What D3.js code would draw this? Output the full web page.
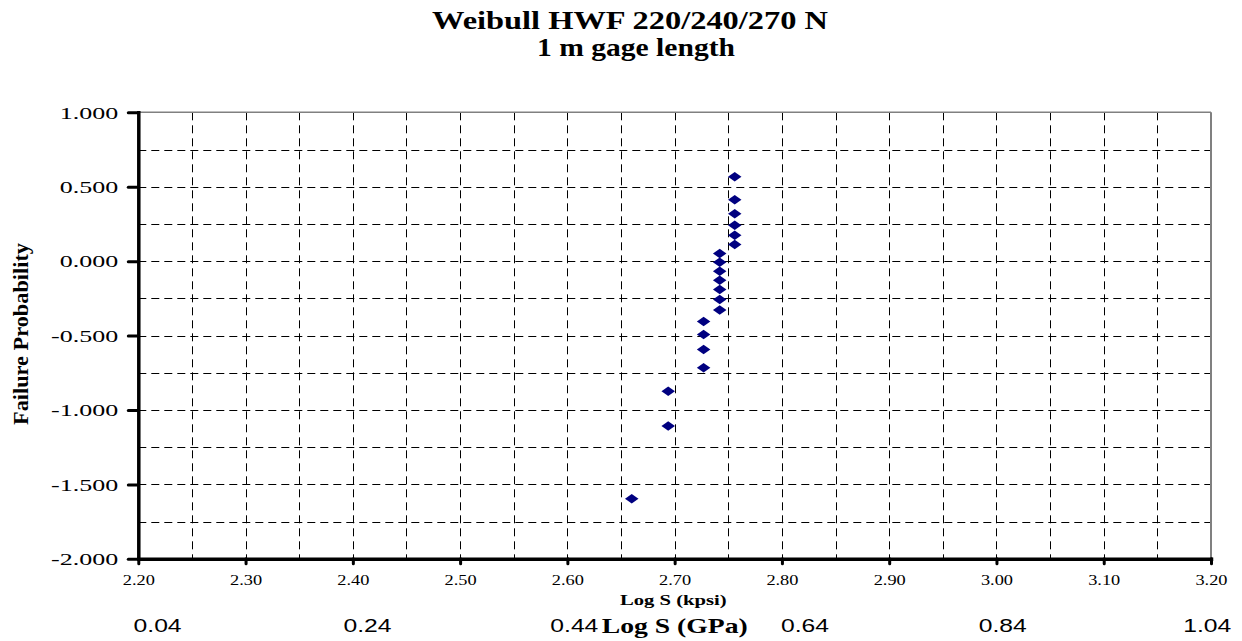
<!DOCTYPE html>
<html><head><meta charset="utf-8">
<script src="https://cdn.jsdelivr.net/npm/d3@7"></script>
<style>html,body{margin:0;padding:0;background:#fff;overflow:hidden}</style>
</head><body>
<svg id="c" width="1242" height="641" xmlns="http://www.w3.org/2000/svg"></svg>
<script>
// ---- data ----
const logS = [2.660, 2.694, 2.694, 2.727, 2.727, 2.727, 2.727,
              2.742, 2.742, 2.742, 2.742, 2.742, 2.742, 2.742,
              2.756, 2.756, 2.756, 2.756, 2.756, 2.756];
const failureProb = [-1.597, -1.108, -0.874, -0.716, -0.594, -0.493, -0.406,
                     -0.328, -0.257, -0.191, -0.128, -0.068, -0.008, 0.051,
                     0.111, 0.174, 0.241, 0.318, 0.413, 0.567];
const xTicks = [2.20, 2.30, 2.40, 2.50, 2.60, 2.70, 2.80, 2.90, 3.00, 3.10, 3.20];
const yTicks = [1.000, 0.500, 0.000, -0.500, -1.000, -1.500, -2.000];
const xGrid = [2.25, 2.30, 2.35, 2.40, 2.45, 2.50, 2.55, 2.60, 2.65, 2.70, 2.75, 2.80, 2.85, 2.90, 2.95, 3.00, 3.05, 3.10, 3.15];
const yGrid = [0.75, 0.50, 0.25, 0.00, -0.25, -0.50, -0.75, -1.00, -1.25, -1.50, -1.75];
const gpaLabels = ["0.04", "0.24", "0.44", "0.64", "0.84", "1.04"];
const gpaLabelAt = [2.218, 2.4136, 2.6065, 2.8215, 3.0059, 3.1965];
const titleLines = ["Weibull HWF 220/240/270 N", "1 m gage length"];
const xTitle = "Log S (kpsi)";
const xTitle2 = "Log S (GPa)";
const yTitle = "Failure Probability";

// ---- layout ----
const svg = d3.select("#c");
svg.append("rect").attr("width", 1242).attr("height", 641).attr("fill", "#fff");
const serif = "'Liberation Serif','Times New Roman',serif";
const sans = "'Liberation Sans',Arial,sans-serif";

const x = d3.scaleLinear().domain([2.2, 3.2]).range([138.3, 1211]);
const y = d3.scaleLinear().domain([-2, 1]).range([558.8, 112.3]);

// gridlines
const grid = svg.append("g").attr("stroke", "#000").attr("stroke-width", 1).attr("stroke-dasharray", "8,5");
grid.selectAll("line.v").data(xGrid).join("line").attr("class", "v")
  .attr("x1", d => Math.round(x(d)) + 0.5).attr("x2", d => Math.round(x(d)) + 0.5)
  .attr("y1", y(1)).attr("y2", y(-2));
grid.selectAll("line.h").data(yGrid).join("line").attr("class", "h")
  .attr("x1", x(2.2)).attr("x2", x(3.2))
  .attr("y1", d => Math.round(y(d)) + 0.5).attr("y2", d => Math.round(y(d)) + 0.5);

// top and right plot border (gray)
svg.append("line").attr("x1", x(2.2)).attr("x2", x(3.2)).attr("y1", y(1)).attr("y2", y(1))
  .attr("stroke", "#808080").attr("stroke-width", 1.5);
svg.append("line").attr("x1", x(3.2)).attr("x2", x(3.2)).attr("y1", y(1)).attr("y2", y(-2))
  .attr("stroke", "#808080").attr("stroke-width", 2);

// axes
const yAxis = svg.append("g").attr("transform", `translate(${x(2.2)},0)`)
  .call(d3.axisLeft(y).tickValues(yTicks).tickFormat(d => d.toFixed(3)).tickSizeInner(10).tickSizeOuter(0).tickPadding(0));
yAxis.select(".domain").attr("stroke", "#000").attr("stroke-width", 3.5).attr("stroke-linecap", "square");
yAxis.selectAll(".tick line").attr("stroke", "#000").attr("stroke-width", 3).attr("stroke-linecap", "round");
yAxis.selectAll(".tick text")
  .attr("x", null).attr("dy", null).attr("y", 5.8)
  .attr("transform", "translate(-20,0) scale(1.53,1)")
  .attr("text-anchor", "end").attr("font-family", serif).attr("font-size", 17).attr("fill", "#000");

const xAxis = svg.append("g").attr("transform", `translate(0,${y(-2)})`)
  .call(d3.axisBottom(x).tickValues(xTicks).tickFormat(d => d.toFixed(2)).tickSizeInner(5).tickSizeOuter(0).tickPadding(0));
xAxis.select(".domain").attr("stroke", "#000").attr("stroke-width", 3.5).attr("stroke-linecap", "square");
xAxis.selectAll(".tick line").attr("stroke", "#000").attr("stroke-width", 3).attr("stroke-linecap", "round");
xAxis.selectAll(".tick text")
  .attr("y", null).attr("dy", null)
  .attr("transform", "translate(0,26.2) scale(1.31,1)")
  .attr("text-anchor", "middle").attr("font-family", serif).attr("font-size", 14).attr("fill", "#000");

// points
const wideDiamond = {
  draw(ctx, size) {
    const r = Math.sqrt(size) / 2;
    const w = r * 1.35, h = r * 0.95;
    ctx.moveTo(-w, 0); ctx.lineTo(0, -h); ctx.lineTo(w, 0); ctx.lineTo(0, h); ctx.closePath();
  }
};
svg.append("g").selectAll("path").data(logS.map((v, i) => [v, failureProb[i]])).join("path")
  .attr("transform", d => `translate(${x(d[0])},${y(d[1])})`)
  .attr("d", d3.symbol().type(wideDiamond).size(100))
  .attr("fill", "#000080");

// titles
const tl = [{cx: 630, by: 29, w: 396}, {cx: 636, by: 56, w: 198}];
svg.append("g").selectAll("text").data(titleLines).join("text")
  .attr("x", (d, i) => tl[i].cx).attr("y", (d, i) => tl[i].by)
  .attr("textLength", (d, i) => tl[i].w).attr("lengthAdjust", "spacingAndGlyphs")
  .attr("text-anchor", "middle").attr("font-family", serif).attr("font-weight", "bold").attr("font-size", 25)
  .text(d => d);

svg.append("text").attr("x", 673.3).attr("y", 605)
  .attr("textLength", 106.7).attr("lengthAdjust", "spacingAndGlyphs")
  .attr("text-anchor", "middle").attr("font-family", serif).attr("font-weight", "bold").attr("font-size", 15)
  .text(xTitle);

svg.append("text").attr("x", 674.8).attr("y", 633)
  .attr("textLength", 146).attr("lengthAdjust", "spacingAndGlyphs")
  .attr("text-anchor", "middle").attr("font-family", serif).attr("font-weight", "bold").attr("font-size", 21)
  .text(xTitle2);

svg.append("text").attr("transform", "translate(27.5,334) scale(1.4,1) rotate(-90)")
  .attr("textLength", 182).attr("lengthAdjust", "spacingAndGlyphs")
  .attr("text-anchor", "middle").attr("font-family", serif).attr("font-weight", "bold").attr("font-size", 15)
  .text(yTitle);

svg.append("g").selectAll("text").data(gpaLabels).join("text")
  .attr("x", (d, i) => x(gpaLabelAt[i])).attr("y", 632)
  .attr("textLength", 48).attr("lengthAdjust", "spacingAndGlyphs")
  .attr("text-anchor", "middle").attr("font-family", sans).attr("font-size", 19)
  .text(d => d);
</script>
</body></html>
